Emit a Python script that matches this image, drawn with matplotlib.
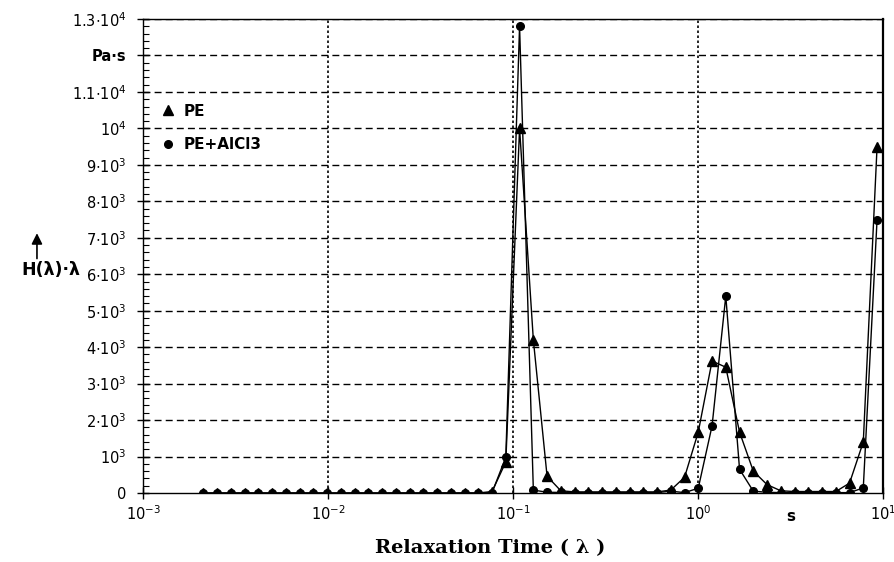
import matplotlib
matplotlib.use("Agg")
import matplotlib.pyplot as plt
from matplotlib.lines import Line2D
from matplotlib.ticker import FixedLocator, NullLocator

# relaxation times (s)
tau = [0.002118, 0.002513, 0.002982, 0.003540, 0.004201, 0.004985, 0.005915,
       0.007019, 0.008331, 0.009883, 0.01173, 0.01392, 0.01651, 0.01960,
       0.02325, 0.02759, 0.03275, 0.03886, 0.04611, 0.05472, 0.06493,
       0.07704, 0.09141, 0.1085, 0.1288, 0.1528, 0.1813, 0.2151, 0.2553,
       0.3029, 0.3594, 0.4265, 0.5061, 0.6006, 0.7127, 0.8456, 1.003,
       1.191, 1.413, 1.677, 1.990, 2.361, 2.802, 3.325, 3.946, 4.682,
       5.556, 6.592, 7.824, 9.284]

# H(lambda)*lambda in Pa*s
h_pe = [0, 0, 0, 0, 0, 0, 0, 0, 0, 0,
        0, 0, 0, 0, 0, 0, 0, 0, 0, 0,
        0, 40, 850, 10000, 4200, 460, 60, 30, 30, 30,
        30, 30, 30, 30, 80, 430, 1670, 3620, 3450, 1670,
        600, 230, 60, 40, 40, 40, 40, 270, 1400, 9480]

h_pe_alcl3 = [0, 0, 0, 0, 0, 0, 0, 0, 0, 0,
              0, 0, 0, 0, 0, 0, 0, 0, 0, 0,
              0, 10, 980, 12800, 80, 20, 15, 10, 10, 10,
              10, 10, 10, 10, 50, 10, 130, 1840, 5400, 650,
              50, 20, 10, 10, 10, 10, 10, 10, 140, 7480]

y_ticks = list(range(0, 14000, 1000))
y_labels = ["0", r"$10^{3}$", r"$2{\cdot}10^{3}$", r"$3{\cdot}10^{3}$",
            r"$4{\cdot}10^{3}$", r"$5{\cdot}10^{3}$", r"$6{\cdot}10^{3}$",
            r"$7{\cdot}10^{3}$", r"$8{\cdot}10^{3}$", r"$9{\cdot}10^{3}$",
            r"$10^{4}$", r"$1.1{\cdot}10^{4}$", "Pa·s", r"$1.3{\cdot}10^{4}$"]
x_ticks = [1e-3, 1e-2, 1e-1, 1e0, 1e1]
x_labels = [r"$10^{-3}$", r"$10^{-2}$", r"$10^{-1}$", r"$10^{0}$", r"$10^{1}$"]

fig = plt.figure(figsize=(8.95, 5.62), dpi=100)
ax = fig.add_axes([0.1598, 0.1228, 0.8268, 0.8434])

ax.plot(tau, h_pe, color="black", lw=1.0, marker="^", ms=7.5,
        markeredgecolor="black", markerfacecolor="black", zorder=3)
ax.plot(tau, h_pe_alcl3, color="black", lw=1.0, marker="o", ms=5.5,
        markeredgecolor="black", markerfacecolor="black", zorder=3)

ax.set_xscale("log")
ax.set_xlim(1e-3, 1e1)
ax.set_ylim(0, 13000)

# horizontal dashed grid, vertical dotted decade lines
for y in y_ticks[1:]:
    ax.axhline(y, color="black", lw=1.0, ls=(0, (5, 3)), zorder=1)
for x in x_ticks[1:-1]:
    ax.axvline(x, color="black", lw=1.2, ls=(0, (1.5, 1.5)), zorder=1)

ax.xaxis.set_major_locator(FixedLocator(x_ticks))
ax.xaxis.set_minor_locator(NullLocator())
ax.set_xticklabels(x_labels)
ax.yaxis.set_major_locator(FixedLocator(y_ticks))
ax.yaxis.set_minor_locator(FixedLocator(list(range(0, 13001, 200))))
ax.set_yticklabels(y_labels)
for lab in ax.get_yticklabels():
    if lab.get_text() == "Pa·s":
        lab.set_fontweight("bold")

ax.tick_params(axis="both", which="major", direction="inout", length=8,
               width=1, labelsize=10.5, color="black")
ax.tick_params(axis="y", which="major", pad=8)
ax.tick_params(axis="y", which="minor", direction="in", length=4, width=0.8)
ax.tick_params(axis="x", which="major", pad=4)

for sp in ax.spines.values():
    sp.set_color("black")
    sp.set_linewidth(1.0)
ax.spines["right"].set_linewidth(1.6)

# unit label on the time axis
ax.text(10 ** 0.5, -430, "s", ha="center", va="top", fontsize=11,
        fontweight="bold", transform=ax.transData)

fig.text(0.5475, 0.025, "Relaxation Time ( λ )", ha="center", va="center",
         fontsize=14, fontweight="bold", family="DejaVu Serif")

fig.text(0.057, 0.519, "H(λ)·λ", ha="center", va="center", fontsize=12.5,
         fontweight="bold")
fig.add_artist(plt.Annotation("", xy=(0.0413, 0.590), xytext=(0.0413, 0.535),
                              xycoords="figure fraction",
                              textcoords="figure fraction",
                              arrowprops=dict(arrowstyle="-|>", color="black",
                                              lw=1.2, mutation_scale=16)))

handles = [Line2D([], [], ls="none", marker="^", ms=7.5, color="black"),
           Line2D([], [], ls="none", marker="o", ms=5.5, color="black")]
ax.legend(handles, ["PE", "PE+AlCl3"], loc="upper left",
          bbox_to_anchor=(0.005, 0.85), frameon=False, handlelength=1.0,
          handletextpad=0.5, labelspacing=1.2, prop=dict(size=11, weight="bold"))

fig.savefig("out.png", dpi=100)
